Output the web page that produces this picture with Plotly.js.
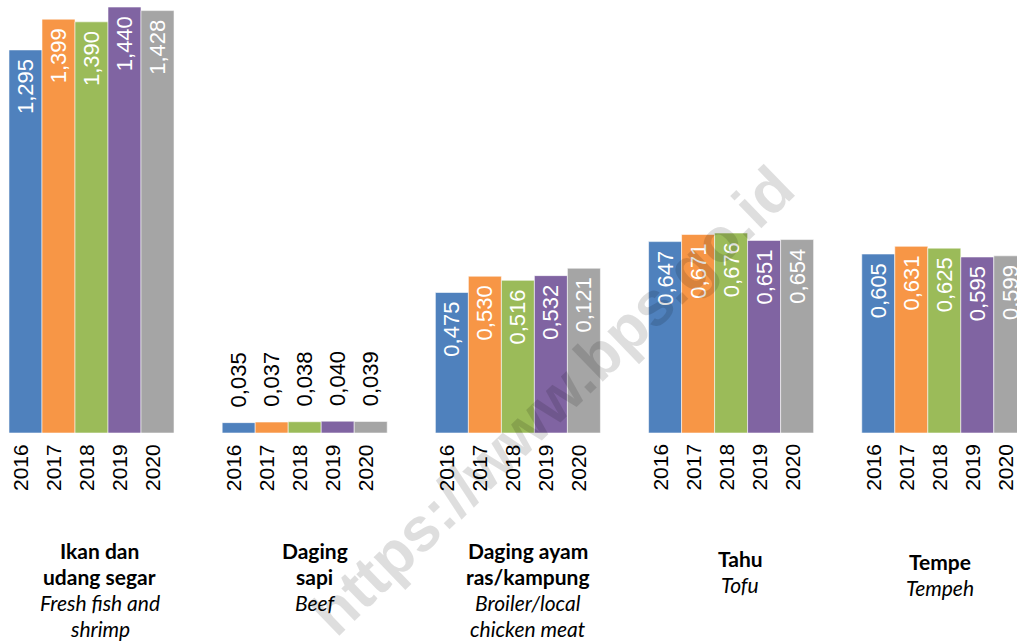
<!DOCTYPE html>
<html>
<head>
<meta charset="utf-8">
<script src="https://cdn.plot.ly/plotly-3.0.1.min.js"></script>
<style>html,body{margin:0;padding:0;background:#fff;}#chart{width:1017px;height:641px;}</style>
</head>
<body>
<div id="chart"></div>
<script>
// ---- data ----
const categories = ['Ikan dan udang segar', 'Daging sapi', 'Daging ayam ras/kampung', 'Tahu', 'Tempe'];
const years = ['2016', '2017', '2018', '2019', '2020'];
// bar heights as drawn
const v2016 = [1.295, 0.035, 0.475, 0.647, 0.605];
const v2017 = [1.399, 0.037, 0.530, 0.671, 0.631];
const v2018 = [1.390, 0.038, 0.516, 0.676, 0.625];
const v2019 = [1.440, 0.040, 0.532, 0.651, 0.595];
const v2020 = [1.428, 0.039, 0.557, 0.654, 0.599];
// value labels as printed
const lab2016 = ['1,295', '0,035', '0,475', '0,647', '0,605'];
const lab2017 = ['1,399', '0,037', '0,530', '0,671', '0,631'];
const lab2018 = ['1,390', '0,038', '0,516', '0,676', '0,625'];
const lab2019 = ['1,440', '0,040', '0,532', '0,651', '0,595'];
const lab2020 = ['1,428', '0,039', '0,121', '0,654', '0,599'];
// category labels (Indonesian bold, English italic)
const catLabelsId = [['Ikan dan', 'udang segar'], ['Daging', 'sapi'], ['Daging ayam', 'ras/kampung'], ['Tahu'], ['Tempe']];
const catLabelsEn = [['Fresh fish and', 'shrimp'], ['Beef'], ['Broiler/local', 'chicken meat'], ['Tofu'], ['Tempeh']];
const watermark = 'https://www.bps.go.id';

// ---- styling ----
const colors = ['#4F81BD', '#F79646', '#9BBB59', '#8064A2', '#A5A5A5'];
const values = [v2016, v2017, v2018, v2019, v2020];
const labels = [lab2016, lab2017, lab2018, lab2019, lab2020];
const bargap = 0.226;
const barW = (1 - bargap) / years.length;
const plotBottom = 433;           // px of baseline
const catStart = [550, 550, 550, 558, 561]; // px centre of first label line
const catShift = [8, 10, 10, 9, -4];        // px horizontal nudge of labels
const lineStep = 26;
const valueFont = 'Liberation Sans, Arial, sans-serif';
const labelFont = 'Lato, Carlito, Calibri, sans-serif';

const traces = years.map((yr, j) => ({
  type: 'bar',
  name: yr,
  x: categories,
  y: values[j],
  text: labels[j],
  texttemplate: values[j].map(v => v < 0.2 ? '\u00a0\u00a0%{text}' : '%{text}\u00a0'),
  textposition: values[j].map(v => v < 0.2 ? 'outside' : 'inside'),
  insidetextanchor: 'end',
  textangle: -90,
  constraintext: 'none',
  cliponaxis: false,
  insidetextfont: {family: valueFont, size: 22, color: '#ffffff'},
  outsidetextfont: {family: valueFont, size: 22, color: '#000000'},
  marker: {color: colors[j], line: {color: 'rgba(255,255,255,0.55)', width: 1}},
  hoverinfo: 'x+y+name'
}));

const annotations = [];
categories.forEach((c, i) => {
  years.forEach((yr, j) => {
    annotations.push({
      xref: 'x', yref: 'paper', x: i + (j - 2) * barW, y: 0,
      xanchor: 'center', yanchor: 'top', xshift: -5, yshift: -9,
      text: yr, textangle: -90, showarrow: false,
      font: {family: valueFont, size: 21, color: '#000000'}
    });
  });
  const lines = catLabelsId[i].map(t => '<b>' + t + '</b>').concat(catLabelsEn[i].map(t => '<i>' + t + '</i>'));
  lines.forEach((t, k) => {
    const py = catStart[i] + k * lineStep;
    annotations.push({
      xref: 'x', yref: 'paper', x: i, y: 0, xshift: catShift[i], yshift: -(py - plotBottom),
      xanchor: 'center', yanchor: 'middle', text: t, showarrow: false, borderpad: 0,
      font: {family: labelFont, size: 21, color: '#000000'}
    });
  });
});
annotations.push({
  xref: 'paper', yref: 'paper', x: 552 / 1017, y: (plotBottom - 400) / plotBottom,
  xanchor: 'center', yanchor: 'middle', text: '<b>' + watermark + '</b>', textangle: -44,
  showarrow: false, font: {family: 'Liberation Sans, Arial, sans-serif', size: 62, color: 'rgba(0,0,0,0.13)'}
});

const pxPerCat = 213.2;
const x0 = -91.5 / pxPerCat;
const layout = {
  width: 1017, height: 641,
  margin: {l: 0, r: 0, t: 0, b: 641 - plotBottom, pad: 0},
  paper_bgcolor: '#ffffff', plot_bgcolor: '#ffffff',
  barmode: 'group', bargap: bargap, bargroupgap: 0,
  showlegend: false,
  xaxis: {type: 'category', range: [x0, x0 + 1017 / pxPerCat], showticklabels: false, showgrid: false, zeroline: false, showline: false, ticks: ''},
  yaxis: {range: [0, plotBottom / 295.8], showticklabels: false, showgrid: false, zeroline: false, showline: false, ticks: ''},
  annotations: annotations
};

Plotly.newPlot('chart', traces, layout, {displayModeBar: false, staticPlot: true});
</script>
</body>
</html>
